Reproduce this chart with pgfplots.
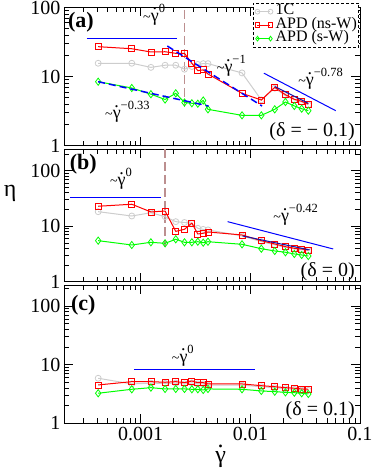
\documentclass[border=0pt]{standalone}
\usepackage{fontspec}
\setmainfont{Liberation Serif}
\usepackage{pgfplots}
\pgfplotsset{compat=1.18}
\definecolor{lgray}{RGB}{205,205,205}
\definecolor{rbrown}{RGB}{188,143,143}
\definecolor{fitblue}{RGB}{20,20,170}
\newcommand{\gd}{\leavevmode\ooalign{γ\cr\hidewidth\raisebox{0.62em}{.}\hidewidth\cr}}
\newcommand{\annot}{\fontsize{18}{18}\selectfont}
\newcommand{\pl}[1]{{\fontsize{14}{14}\selectfont\textasciitilde}\gd\raisebox{0.5em}{\fontsize{12.5}{12.5}\selectfont #1}}

\pgfplotsset{
 legend image code/.code={\draw[mark repeat=2,mark phase=1,#1,solid,mark size=2.4pt] plot coordinates {(0pt,0pt) (6.5pt,0pt) (13pt,0pt)};},
}
\tikzset{
 sgr/.style={color=lgray, solid, line width=1pt, mark=o, mark size=3pt, mark options={solid, fill=white, line width=0.8pt}},
 srd/.style={color=red, solid, line width=1pt, mark=square, mark size=3pt, mark options={solid, fill=white, line width=0.8pt}},
 sgn/.style={color=green, solid, line width=1pt, mark=diamond, mark size=3.6pt, mark options={solid, fill=white, line width=0.8pt}},
}

\begin{document}
\begin{tikzpicture}
\path[use as bounding box] (0,0) rectangle (374pt,469pt);

% ---------------- panel (a)
\begin{axis}[scale only axis, width=296pt, height=138.2pt,
  at={(64pt,323.3pt)}, anchor=south west, clip mode=individual,
  xmode=log, ymode=log, xmin=2e-4, xmax=0.1, ymin=1, ymax=100,
  xtick={0.001,0.01,0.1}, xticklabels={},
  minor xtick={2e-4,3e-4,4e-4,5e-4,6e-4,7e-4,8e-4,9e-4,2e-3,3e-3,4e-3,5e-3,6e-3,7e-3,8e-3,9e-3,0.02,0.03,0.04,0.05,0.06,0.07,0.08,0.09},
  ytick={1,10,100}, yticklabels={1,10,100},
  minor ytick={2,3,4,5,6,7,8,9,20,30,40,50,60,70,80,90},
  major tick length=9pt, minor tick length=5pt,
  tick style={black, line width=0.8pt},
  axis line style={line width=0.9pt},
  tick label style={font=\fontsize{20}{20}\selectfont},
  legend style={at={(0.6375,1.036)}, anchor=north west, draw=black, dash pattern=on 3pt off 2pt, line width=0.8pt,
    font=\fontsize{16}{16}\selectfont, inner sep=2pt, row sep=0pt, column sep=0pt,
    nodes={text height=10pt, text depth=3.5pt, inner xsep=0pt, inner ysep=0pt}},
  legend cell align=left,
]
\addplot[rbrown, dash pattern=on 9pt off 4pt, line width=1.5pt, forget plot] coordinates {(2.51e-3,92) (2.51e-3,3.6)};
\addplot[sgr] coordinates {(0.00041,15.6) (0.00083,15.6) (0.00124,13.6) (0.00167,14.6) (0.00209,14.6) (0.00251,12.8) (0.00293,14.0) (0.00332,15.0) (0.00372,15.4) (0.00411,15.4) (0.0084,11.3) (0.0126,4.6) (0.0167,6.8) (0.0209,5.3) (0.0252,4.6) (0.0294,4.3) (0.0338,3.9)};
\addlegendentry{\,1C}
\addplot[srd] coordinates {(0.00041,27.1) (0.00083,25.3) (0.00124,22.7) (0.00167,22.9) (0.00209,21.7) (0.00251,21.7) (0.00293,15.6) (0.00332,12.2) (0.00372,12.5) (0.00411,10.9) (0.0084,5.73) (0.0126,4.58) (0.0167,7.0) (0.0209,5.47) (0.0252,4.69) (0.0294,4.39) (0.0338,4.01)};
\addlegendentry{\,APD (ns-W)}
\addplot[sgn] coordinates {(0.00041,8.44) (0.00083,6.84) (0.00124,5.56) (0.00167,4.66) (0.00209,5.73) (0.00251,4.22) (0.00293,4.11) (0.00332,4.05) (0.00372,4.51) (0.00411,3.36) (0.0084,2.75) (0.0126,2.75) (0.0167,3.36) (0.0209,4.29) (0.0252,3.76) (0.0294,3.43) (0.0338,3.21)};
\addlegendentry{\,APD (s-W)}
\addplot[blue, solid, line width=1pt, forget plot] coordinates {(3.23e-4,35.8) (2.15e-3,35.8)};
\addplot[blue, dash pattern=on 7pt off 4pt, line width=1.5pt, forget plot] coordinates {(1.75e-3,27.7) (1.28e-2,3.75)};
\addplot[blue, solid, line width=1pt, forget plot] coordinates {(1.33e-2,11.2) (0.0601,3.21)};
\addplot[blue, dash pattern=on 7pt off 4pt, line width=1.5pt, forget plot] coordinates {(4.09e-4,8.44) (4.16e-3,3.75)};
\addplot[fitblue, solid, line width=1pt, forget plot] coordinates {(0.0167,7.2) (0.0338,4.1)};
\node[font=\bfseries\fontsize{22}{22}\selectfont] at (rel axis cs:0.057,0.897) {(a)};
\node[anchor=base west, font=\annot, inner sep=0pt] at (rel axis cs:0.267,0.902) {\pl{0}};
\node[anchor=base west, font=\annot, inner sep=0pt] at (rel axis cs:0.516,0.528) {\pl{−1}};
\node[anchor=base west, font=\annot, inner sep=0pt] at (rel axis cs:0.791,0.437) {\pl{−0.78}};
\node[anchor=base west, font=\annot, inner sep=0pt] at (rel axis cs:0.1385,0.198) {\pl{−0.33}};
\node[anchor=base east, font=\fontsize{20}{20}\selectfont, inner sep=0pt] at (rel axis cs:0.983,0.065) {(δ = − 0.1)};
\end{axis}

% ---------------- panel (b)
\begin{axis}[scale only axis, width=296pt, height=132.9pt,
  at={(64pt,187.1pt)}, anchor=south west, clip mode=individual,
  xmode=log, ymode=log, xmin=2e-4, xmax=0.1, ymin=1, ymax=245,
  xtick={0.001,0.01,0.1}, xticklabels={},
  minor xtick={2e-4,3e-4,4e-4,5e-4,6e-4,7e-4,8e-4,9e-4,2e-3,3e-3,4e-3,5e-3,6e-3,7e-3,8e-3,9e-3,0.02,0.03,0.04,0.05,0.06,0.07,0.08,0.09},
  ytick={1,10,100}, yticklabels={1,10,100},
  minor ytick={2,3,4,5,6,7,8,9,20,30,40,50,60,70,80,90,200},
  major tick length=9pt, minor tick length=5pt,
  tick style={black, line width=0.8pt},
  axis line style={line width=0.9pt},
  tick label style={font=\fontsize{20}{20}\selectfont},
]
\addplot[rbrown, dash pattern=on 9pt off 4pt, line width=1.5pt, forget plot] coordinates {(1.66e-3,245) (1.66e-3,4.3)};
\addplot[sgr] coordinates {(0.00041,18.3) (0.00083,15.3) (0.00124,17.5) (0.00167,14.9) (0.00209,12.1) (0.00251,11.7) (0.00293,11.3) (0.00332,9.2) (0.00372,8.8) (0.00411,8.6) (0.0084,6.7) (0.0126,5.3) (0.0167,4.65) (0.0209,4.15) (0.0252,3.9) (0.0294,3.8) (0.0338,3.65)};
\addplot[srd] coordinates {(0.00041,22.9) (0.00083,24.9) (0.00124,18.1) (0.00167,18.8) (0.00209,8.1) (0.00251,8.83) (0.00293,11.4) (0.00332,7.27) (0.00372,7.48) (0.00411,7.9) (0.0084,6.98) (0.0126,5.51) (0.0167,4.81) (0.0209,4.3) (0.0252,4.02) (0.0294,3.91) (0.0338,3.75)};
\addplot[sgn] coordinates {(0.00041,5.51) (0.00083,4.61) (0.00124,5.15) (0.00167,4.94) (0.00209,5.84) (0.00251,5.15) (0.00293,5.15) (0.00332,5.28) (0.00372,5.07) (0.00411,5.28) (0.0084,4.74) (0.0126,3.95) (0.0167,3.6) (0.0209,3.41) (0.0252,3.18) (0.0294,3.05) (0.0338,2.92)};
\addplot[blue, solid, line width=1pt, forget plot] coordinates {(2.26e-4,33.2) (1.52e-3,33.2)};
\addplot[blue, solid, line width=1pt, forget plot] coordinates {(6.21e-3,12.1) (0.0569,3.91)};
\addplot[fitblue, solid, line width=1pt, forget plot] coordinates {(8.5e-3,6.7) (0.0348,3.75)};
\node[font=\bfseries\fontsize{22}{22}\selectfont] at (rel axis cs:0.065,0.887) {(b)};
\node[anchor=base west, font=\annot, inner sep=0pt] at (rel axis cs:0.155,0.724) {\pl{0}};
\node[anchor=base west, font=\annot, inner sep=0pt] at (rel axis cs:0.707,0.451) {\pl{−0.42}};
\node[anchor=base east, font=\fontsize{20}{20}\selectfont, inner sep=0pt] at (rel axis cs:0.983,0.039) {(δ = 0)};
\node[anchor=base, font=\fontsize{24}{24}\selectfont, inner sep=0pt] at (rel axis cs:-0.182,0.646) {η};
\end{axis}

% ---------------- panel (c)
\begin{axis}[scale only axis, width=296pt, height=138.3pt,
  at={(64pt,45.7pt)}, anchor=south west, clip mode=individual,
  xmode=log, ymode=log, xmin=2e-4, xmax=0.1, ymin=1, ymax=230,
  xtick={0.001,0.01,0.1}, xticklabels={0.001,0.01,0.1},
  minor xtick={2e-4,3e-4,4e-4,5e-4,6e-4,7e-4,8e-4,9e-4,2e-3,3e-3,4e-3,5e-3,6e-3,7e-3,8e-3,9e-3,0.02,0.03,0.04,0.05,0.06,0.07,0.08,0.09},
  ytick={1,10,100}, yticklabels={1,10,100},
  minor ytick={2,3,4,5,6,7,8,9,20,30,40,50,60,70,80,90,200},
  major tick length=9pt, minor tick length=5pt,
  tick style={black, line width=0.8pt},
  axis line style={line width=0.9pt},
  tick label style={font=\fontsize{20}{20}\selectfont},
]
\addplot[sgr] coordinates {(0.00041,5.88) (0.00083,4.7) (0.00124,4.85) (0.00167,4.8) (0.00209,4.85) (0.00251,4.7) (0.00293,4.9) (0.00332,4.7) (0.00372,4.7) (0.00411,4.5) (0.0084,4.5) (0.0126,4.2) (0.0167,4.05) (0.0209,3.9) (0.0252,3.8) (0.0294,3.7) (0.0338,3.65)};
\addplot[srd] coordinates {(0.00041,4.52) (0.00083,5.14) (0.00124,5.14) (0.00167,5.02) (0.00209,5.14) (0.00251,4.94) (0.00293,5.28) (0.00332,4.94) (0.00372,4.94) (0.00411,4.7) (0.0084,4.7) (0.0126,4.39) (0.0167,4.22) (0.0209,4.06) (0.0252,3.97) (0.0294,3.86) (0.0338,3.81)};
\addplot[sgn] coordinates {(0.00041,3.26) (0.00083,3.81) (0.00124,4.06) (0.00167,3.86) (0.00209,3.86) (0.00251,3.86) (0.00293,3.81) (0.00332,3.81) (0.00372,3.71) (0.00411,3.86) (0.0084,3.81) (0.0126,3.57) (0.0167,3.47) (0.0209,3.38) (0.0252,3.33) (0.0294,3.26) (0.0338,3.17)};
\addplot[blue, solid, line width=1pt, forget plot] coordinates {(8.68e-4,8.38) (1.11e-2,8.38)};
\node[font=\bfseries\fontsize{22}{22}\selectfont] at (rel axis cs:0.065,0.855) {(c)};
\node[anchor=base west, font=\annot, inner sep=0pt] at (rel axis cs:0.364,0.443) {\pl{0}};
\node[anchor=base east, font=\fontsize{20}{20}\selectfont, inner sep=0pt] at (rel axis cs:0.983,0.060) {(δ = 0.1)};
\node[anchor=base, font=\fontsize{24}{24}\selectfont, inner sep=0pt] at (rel axis cs:0.529,-0.28) {\gd};
\end{axis}
\end{tikzpicture}
\end{document}
